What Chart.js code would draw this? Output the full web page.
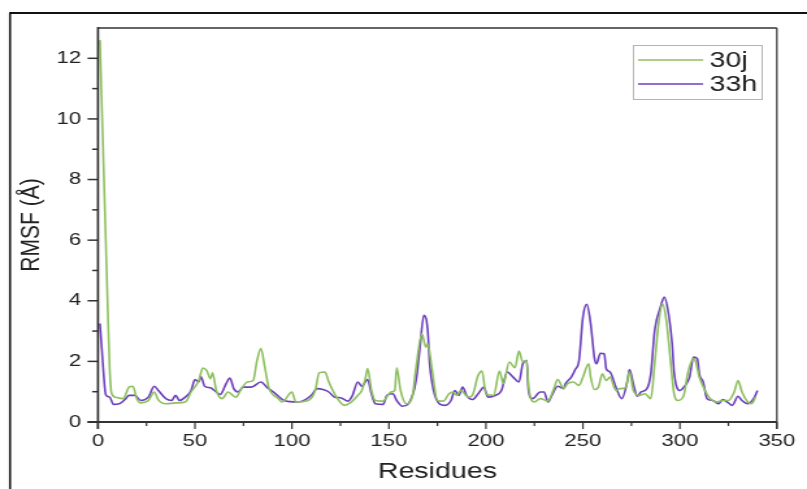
<!DOCTYPE html>
<html>
<head>
<meta charset="utf-8">
<script src="https://cdn.jsdelivr.net/npm/chart.js@4.4.1/dist/chart.umd.min.js"></script>
<style>
  html, body { margin: 0; padding: 0; background: #fff; overflow: hidden; }
  /* the figure is stretched sideways, so draw narrow and widen */
  #wrap { width: 621px; height: 489px; transform: scaleX(1.2995); transform-origin: 0 0; }
</style>
</head>
<body>
<div id="wrap"><canvas id="rmsfChart" width="621" height="489"></canvas></div>
<script>
const residues30j = [1, 2, 3, 4, 5, 6, 7, 9, 13, 16, 18, 20, 22, 26, 29, 31, 35, 40, 45, 48, 52, 54, 56, 58, 59, 61, 64, 67, 71, 74, 77, 80, 82, 84, 86, 88, 93, 95, 100, 102, 108, 112, 114, 117, 119, 123, 127, 130, 134, 136, 138, 139, 141, 143, 147, 151, 153, 154, 156, 159, 162, 164, 167, 169, 170, 172, 175, 178, 181, 183, 185, 187, 191, 193, 196, 198, 200, 204, 207, 209, 212, 215, 217, 219, 221, 222, 225, 228, 232, 235, 237, 240, 242, 245, 248, 250, 253, 254, 256, 258, 260, 262, 264, 267, 269, 272, 274, 276, 279, 282, 285, 287, 289, 291, 293, 295, 297, 299, 302, 304, 307, 308, 310, 313, 315, 319, 322, 325, 328, 330, 332, 335, 337, 339];
const rmsf30j = [12.6, 10.4, 8.2, 6.0, 3.8, 1.8, 0.95, 0.82, 0.77, 1.15, 1.18, 0.77, 0.63, 0.71, 0.99, 0.74, 0.6, 0.63, 0.66, 0.99, 1.37, 1.78, 1.7, 1.43, 1.62, 1.04, 0.77, 0.99, 0.82, 1.1, 1.32, 1.37, 2.03, 2.42, 1.81, 1.15, 0.77, 0.66, 0.99, 0.66, 0.7, 1.04, 1.62, 1.65, 1.32, 0.82, 0.55, 0.63, 0.88, 1.04, 1.48, 1.76, 1.04, 0.71, 0.69, 0.99, 1.04, 1.79, 1.04, 0.6, 0.82, 1.81, 2.91, 2.47, 2.58, 1.84, 0.71, 0.69, 0.93, 0.99, 0.88, 1.04, 0.82, 0.88, 1.54, 1.68, 0.93, 0.88, 1.68, 1.26, 1.98, 1.79, 2.34, 1.98, 2.03, 1.15, 0.66, 0.77, 0.69, 1.1, 1.4, 1.1, 1.26, 1.32, 1.21, 1.48, 1.92, 1.48, 1.07, 1.15, 1.59, 1.37, 1.48, 1.04, 1.1, 1.13, 1.65, 1.04, 0.88, 0.93, 0.77, 1.92, 3.24, 3.9, 3.35, 2.14, 0.93, 0.71, 0.88, 1.59, 2.09, 2.03, 1.48, 1.04, 0.82, 0.66, 0.71, 0.71, 0.99, 1.37, 0.99, 0.66, 0.6, 0.82];

const residues33h = [1, 2, 3, 4, 6, 8, 11, 14, 16, 19, 22, 26, 29, 31, 35, 38, 40, 42, 45, 48, 50, 52, 53, 55, 58, 60, 63, 66, 68, 70, 72, 75, 79, 84, 87, 91, 96, 103, 107, 110, 113, 116, 119, 122, 125, 129, 131, 134, 136, 139, 141, 143, 147, 149, 152, 154, 157, 160, 164, 166, 168, 170, 171, 173, 176, 179, 182, 184, 186, 188, 190, 193, 196, 199, 201, 205, 208, 211, 214, 217, 219, 221, 222, 224, 228, 230, 232, 234, 237, 240, 241, 244, 246, 248, 250, 252, 254, 256, 257, 259, 261, 262, 264, 267, 270, 273, 274, 276, 278, 280, 283, 285, 287, 290, 292, 294, 296, 297, 300, 302, 305, 307, 309, 310, 312, 314, 317, 320, 322, 325, 327, 330, 332, 335, 338, 340];
const rmsf33h = [3.25, 2.4, 1.5, 0.9, 0.82, 0.58, 0.6, 0.75, 0.88, 0.88, 0.71, 0.82, 1.18, 1.05, 0.77, 0.71, 0.88, 0.71, 0.82, 1.04, 1.4, 1.32, 1.5, 1.18, 1.13, 1.04, 0.91, 1.26, 1.45, 1.1, 0.99, 1.15, 1.15, 1.32, 1.15, 0.96, 0.71, 0.66, 0.74, 0.88, 1.1, 1.07, 0.99, 0.82, 0.8, 0.69, 0.85, 1.32, 1.18, 1.4, 0.93, 0.6, 0.58, 0.88, 0.93, 0.71, 0.52, 0.6, 1.37, 2.47, 3.52, 3.02, 1.92, 1.04, 0.6, 0.55, 0.71, 1.04, 0.88, 1.15, 0.88, 0.74, 0.93, 1.15, 0.82, 0.88, 1.04, 1.65, 1.48, 1.32, 1.92, 2.03, 1.0, 0.77, 0.99, 0.99, 0.66, 0.88, 1.18, 1.1, 1.26, 1.48, 1.73, 2.03, 3.46, 3.88, 3.24, 2.09, 1.92, 2.27, 2.25, 1.76, 1.65, 1.15, 0.77, 1.37, 1.73, 1.26, 0.85, 0.99, 1.1, 1.59, 3.02, 3.79, 4.12, 3.63, 2.58, 1.65, 1.04, 1.15, 1.48, 2.14, 2.09, 1.59, 1.32, 0.77, 0.71, 0.6, 0.74, 0.63, 0.55, 0.85, 0.71, 0.6, 0.77, 1.04];

const xTicks = [0, 50, 100, 150, 200, 250, 300, 350];
const xMinorTicks = [25, 75, 125, 175, 225, 275, 325];
const yTicks = [0, 2, 4, 6, 8, 10, 12];
const yMinorTicks = [1, 3, 5, 7, 9, 11];

const fontFamily = '"Liberation Sans", Arial, sans-serif';
const toPoints = (xs, ys) => xs.map((x, i) => ({ x: x, y: ys[i] }));

// page frame, plot box, tick marks and boxed legend
const frame = {
  id: 'frame',
  beforeDraw(chart) {
    const ctx = chart.ctx;
    ctx.save();
    ctx.fillStyle = '#fff';
    ctx.fillRect(0, 0, chart.width, chart.height);
    ctx.strokeStyle = '#111';
    ctx.lineWidth = 1.6;
    ctx.beginPath();
    ctx.moveTo(7.7, chart.height);
    ctx.lineTo(7.7, 13);
    ctx.stroke();
    ctx.lineWidth = 2;
    ctx.beginPath();
    ctx.moveTo(7, 13);
    ctx.lineTo(chart.width, 13);
    ctx.stroke();
    ctx.restore();
  },
  afterDraw(chart) {
    const { ctx, chartArea: a, scales: { x, y } } = chart;
    ctx.save();
    ctx.strokeStyle = '#333';
    // top and right sides
    ctx.lineWidth = 1.3;
    ctx.beginPath();
    ctx.moveTo(a.left, a.top);
    ctx.lineTo(a.right, a.top);
    ctx.stroke();
    ctx.lineWidth = 1.2;
    ctx.beginPath();
    ctx.moveTo(a.right, a.top);
    ctx.lineTo(a.right, a.bottom + 7);
    ctx.stroke();
    // axes
    ctx.lineWidth = 1.7;
    ctx.beginPath();
    ctx.moveTo(a.left, a.top - 1);
    ctx.lineTo(a.left, a.bottom + 7);
    ctx.stroke();
    ctx.lineWidth = 2;
    ctx.beginPath();
    ctx.moveTo(a.left - 8, a.bottom);
    ctx.lineTo(a.right, a.bottom);
    ctx.stroke();
    // x tick marks
    ctx.lineWidth = 1.2;
    xTicks.concat(xMinorTicks).forEach(v => {
      const px = x.getPixelForValue(v);
      const len = xTicks.includes(v) ? 7 : 4;
      ctx.beginPath();
      ctx.moveTo(px, a.bottom);
      ctx.lineTo(px, a.bottom + len);
      ctx.stroke();
    });
    // y tick marks
    ctx.lineWidth = 1.5;
    yTicks.concat(yMinorTicks).forEach(v => {
      const py = y.getPixelForValue(v);
      const len = yTicks.includes(v) ? 8 : 4.5;
      ctx.beginPath();
      ctx.moveTo(a.left, py);
      ctx.lineTo(a.left - len, py);
      ctx.stroke();
    });
    // legend
    ctx.strokeStyle = '#b4b4b4';
    ctx.lineWidth = 1;
    ctx.strokeRect(487.5, 45.5, 99, 54);
    ctx.font = '22px ' + fontFamily;
    ctx.textBaseline = 'middle';
    ctx.fillStyle = '#222';
    chart.data.datasets.forEach((ds, i) => {
      const ly = 60 + i * 24;
      ctx.strokeStyle = ds.borderColor;
      ctx.lineWidth = 1.5;
      ctx.beginPath();
      ctx.moveTo(491, ly);
      ctx.lineTo(541, ly);
      ctx.stroke();
      ctx.fillText(ds.label, 546, ly + 1);
    });
    ctx.restore();
  }
};

new Chart(document.getElementById('rmsfChart'), {
  type: 'line',
  data: {
    datasets: [
      {
        label: '30j',
        data: toPoints(residues30j, rmsf30j),
        borderColor: '#8dc05e',
        borderWidth: 1.6,
        pointRadius: 0,
        cubicInterpolationMode: 'monotone'
      },
      {
        label: '33h',
        data: toPoints(residues33h, rmsf33h),
        borderColor: '#6c40bd',
        borderWidth: 1.6,
        pointRadius: 0,
        cubicInterpolationMode: 'monotone'
      }
    ]
  },
  options: {
    responsive: false,
    animation: false,
    devicePixelRatio: 1,
    layout: { padding: { left: 0, right: 19, top: 28, bottom: 0 } },
    plugins: {
      legend: { display: false },
      tooltip: { enabled: false }
    },
    scales: {
      x: {
        type: 'linear',
        min: 0,
        max: 350,
        afterBuildTicks: s => { s.ticks = xTicks.map(v => ({ value: v })); },
        afterFit: s => { s.height = 67; },
        ticks: {
          font: { family: fontFamily, size: 17 },
          color: '#222',
          padding: 9,
          maxRotation: 0
        },
        grid: { display: false, drawTicks: false },
        border: { display: false },
        title: {
          display: true,
          text: 'Residues',
          font: { family: fontFamily, size: 22 },
          color: '#222',
          padding: { top: 0, bottom: 4 }
        }
      },
      y: {
        min: 0,
        max: 13,
        afterBuildTicks: s => { s.ticks = yTicks.map(v => ({ value: v })); },
        afterFit: s => { s.width = 75.4; },
        ticks: {
          font: { family: fontFamily, size: 17 },
          color: '#222',
          padding: 13
        },
        grid: { display: false, drawTicks: false },
        border: { display: false },
        title: {
          display: true,
          text: 'RMSF (Å)',
          font: { family: fontFamily, size: 21 },
          color: '#222',
          padding: { top: 12, bottom: 0 }
        }
      }
    }
  },
  plugins: [frame]
});
</script>
</body>
</html>
